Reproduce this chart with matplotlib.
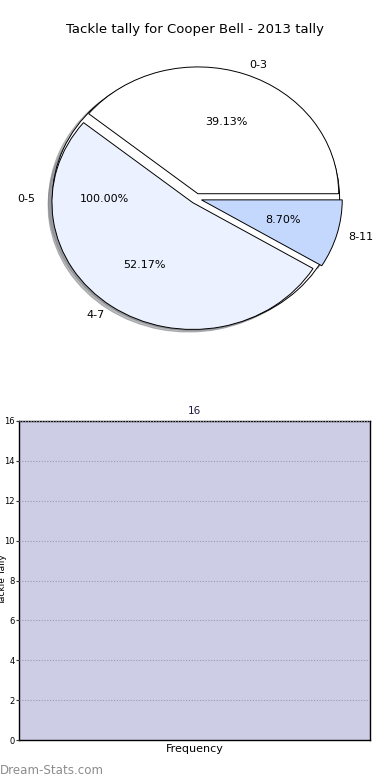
import matplotlib
matplotlib.use("Agg")
import matplotlib.pyplot as plt

title = "Tackle tally for Cooper Bell - 2013 tally"
slice_labels = ["0-3", "4-7", "8-11"]
slice_values = [9, 12, 2]
slice_colors = ["#ffffff", "#ebf1fe", "#c4d8fe"]
slice_explode = [0.04, 0.04, 0.04]
total_label = ["0-5"]
total_value = [1]

bar_categories = ["Frequency"]
bar_values = [16]
yticks = [0, 2, 4, 6, 8, 10, 12, 14, 16]
ylabel = "Tackle Tally"
watermark = "Dream-Stats.com"

fig = plt.figure(figsize=(3.9, 7.8), dpi=100)
W, H = 390, 780

def add_ax(x0, y0, x1, y1):
    return fig.add_axes([x0 / W, 1 - y1 / H, (x1 - x0) / W, (y1 - y0) / H])

# Pie
axp = add_ax(20, 40, 372, 357)
axp.pie(total_value, labels=total_label, colors=["#ffffff"], startangle=0,
        radius=1.02, autopct="%.2f%%", pctdistance=0.64, labeldistance=1.12,
        wedgeprops=dict(edgecolor="black", linewidth=0.7),
        textprops=dict(fontsize=8),
        shadow=dict(ox=-0.02, oy=-0.015, shade=0.5))
axp.pie(slice_values, labels=slice_labels, colors=slice_colors, startangle=0,
        explode=slice_explode, autopct="%.2f%%", pctdistance=0.6,
        labeldistance=1.08,
        wedgeprops=dict(edgecolor="black", linewidth=0.7),
        textprops=dict(fontsize=8),
        shadow=dict(ox=-0.02, oy=-0.015, shade=0.5))
axp.set_aspect("auto")
axp.set_xlim(-1.25, 1.25)
axp.set_ylim(-1.25, 1.25)
fig.text(195 / W, 1 - 30 / H, title, ha="center", va="center", fontsize=9.5)

# Bar
axb = add_ax(19, 421, 370, 740)
x = list(range(len(bar_categories)))
bars = axb.bar(x, bar_values, width=1.0, color="#cdcde6", edgecolor="none")
axb.set_xlim(-0.5, len(bar_categories) - 0.5)
axb.set_ylim(0, 16)
axb.set_yticks(yticks)
axb.set_yticklabels([str(v) for v in yticks], fontsize=6)
axb.set_xticks(x)
axb.set_xticklabels(bar_categories, fontsize=8)
axb.tick_params(axis="x", length=0, pad=3)
axb.tick_params(axis="y", length=2, pad=1, colors="#333333", labelcolor="black")
axb.yaxis.grid(True, linestyle=(0, (1, 1.5)), color="#9a9aa8", linewidth=0.8)
axb.set_axisbelow(False)
for s in axb.spines.values():
    s.set_linewidth(1.0)
for b, v in zip(bars, bar_values):
    axb.text(b.get_x() + b.get_width() / 2, v + 0.25, str(v), ha="center",
             va="bottom", fontsize=7.5, color="#1a1a3a")
fig.text(3 / W, 1 - 580 / H, ylabel, rotation=90, ha="center", va="center",
         fontsize=6.5)

fig.text(0 / W, 1 - 771 / H, watermark, ha="left", va="center", fontsize=8.6,
         color="#8c8c8c")

fig.savefig("out.png", dpi=100)
